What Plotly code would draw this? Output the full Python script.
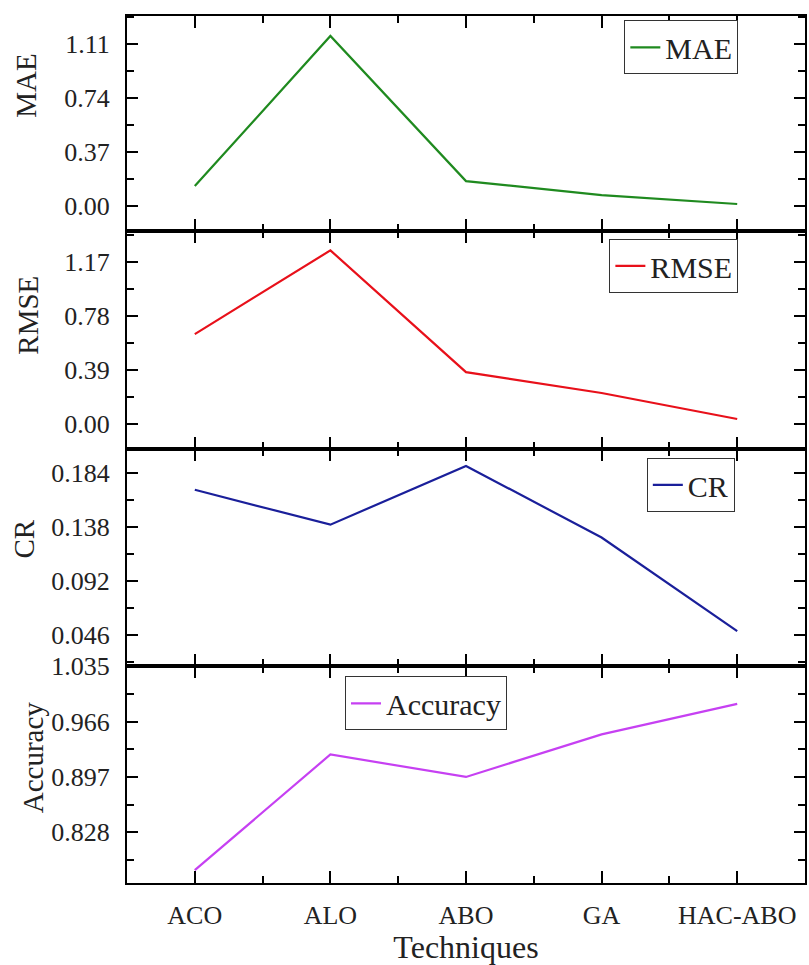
import plotly.graph_objects as go
from plotly.subplots import make_subplots

techniques = ["ACO", "ALO", "ABO", "GA", "HAC-ABO"]
mae = [0.137, 1.165, 0.171, 0.075, 0.014]
rmse = [0.648, 1.254, 0.373, 0.222, 0.034]
cr = [0.1696, 0.1399, 0.1899, 0.129, 0.0494]
accuracy = [0.781, 0.925, 0.897, 0.950, 0.988]

mae_ticks = [0.00, 0.37, 0.74, 1.11]
rmse_ticks = [0.00, 0.39, 0.78, 1.17]
cr_ticks = [0.046, 0.092, 0.138, 0.184]
acc_ticks = [0.828, 0.897, 0.966, 1.035]

FONT = "Liberation Serif, Times New Roman, serif"

panels = [
    dict(name="MAE", y=mae, ticks=mae_ticks, fmt=".2f", rng=[-0.171, 1.302], color="#1f8a1f",
         leg=dict(x=0.8176, y=0.9638), title_xy=(-0.149, 0.9196)),
    dict(name="RMSE", y=rmse, ticks=rmse_ticks, fmt=".2f", rng=[-0.183, 1.394], color="#e8101a",
         leg=dict(x=0.8066, y=0.7118), title_xy=(-0.146, 0.6544)),
    dict(name="CR", y=cr, ticks=cr_ticks, fmt=".3f", rng=[0.0197, 0.2043], color="#1a1f9a",
         leg=dict(x=0.8316, y=0.4592), title_xy=(-0.152, 0.3972)),
    dict(name="Accuracy", y=accuracy, ticks=acc_ticks, fmt=".3f", rng=[0.765, 1.0351], color="#c640f2",
         leg=dict(x=0.441, y=0.2072), title_xy=(-0.139, 0.1447)),
]

domains = [[0.752, 1.0], [0.5006, 0.752], [0.2503, 0.5006], [0.0, 0.2503]]

fig = make_subplots(rows=4, cols=1, shared_xaxes=True, vertical_spacing=0)

xs = list(range(len(techniques)))
annotations = []
for i, p in enumerate(panels):
    r = i + 1
    legname = "legend" if i == 0 else f"legend{i+1}"
    fig.add_trace(go.Scatter(x=xs, y=p["y"], mode="lines", name=p["name"],
                             line=dict(color=p["color"], width=2.2), legend=legname),
                  row=r, col=1)
    step = p["ticks"][1] - p["ticks"][0]
    minor_vals = [t + step / 2 for t in [p["ticks"][0] - step] + p["ticks"]]
    minor_vals = [v for v in minor_vals if p["rng"][0] <= v <= p["rng"][1]]
    fig.update_yaxes(row=r, col=1, range=p["rng"], tickvals=p["ticks"], tickformat=p["fmt"],
                     ticks="inside", ticklen=11, tickwidth=2, tickcolor="black",
                     showline=True, linewidth=2, linecolor="black", mirror="ticks",
                     showgrid=False, zeroline=False, domain=domains[i],
                     tickfont=dict(family=FONT, size=26, color="#222"),
                     ticklabelstandoff=10,
                     minor=dict(tickvals=minor_vals, ticks="inside", ticklen=7,
                                tickwidth=2, tickcolor="black", showgrid=False))
    fig.update_xaxes(row=r, col=1, range=[-0.5, 4.5], tickvals=xs, ticktext=techniques,
                     ticks="inside", ticklen=12, tickwidth=2, tickcolor="black",
                     showline=True, linewidth=2, linecolor="black", mirror="ticks",
                     showgrid=False, zeroline=False,
                     tickfont=dict(family=FONT, size=26, color="#222"),
                     minor=dict(tickvals=[0.5, 1.5, 2.5, 3.5], ticks="inside", ticklen=7,
                                tickwidth=2, tickcolor="black", showgrid=False))
    leg = dict(p["leg"])
    leg.update(xanchor="center", yanchor="middle", bgcolor="white", bordercolor="#333",
               borderwidth=1, font=dict(family=FONT, size=30, color="#222"))
    fig.update_layout({legname: leg})
    annotations.append(dict(text=p["name"], xref="paper", yref="paper",
                            x=p["title_xy"][0], y=p["title_xy"][1], textangle=-90,
                            xanchor="center", yanchor="middle",
                            showarrow=False, font=dict(family=FONT, size=29, color="#222")))

fig.update_xaxes(row=4, col=1, showticklabels=True, ticklabelstandoff=8,
                 title=dict(text="Techniques", font=dict(family=FONT, size=32, color="#222"),
                            standoff=10))

fig.update_layout(width=809, height=965, margin=dict(l=127, r=2, t=12, b=82),
                  plot_bgcolor="white", paper_bgcolor="white", showlegend=True,
                  annotations=annotations)

fig.write_html("out.html")
